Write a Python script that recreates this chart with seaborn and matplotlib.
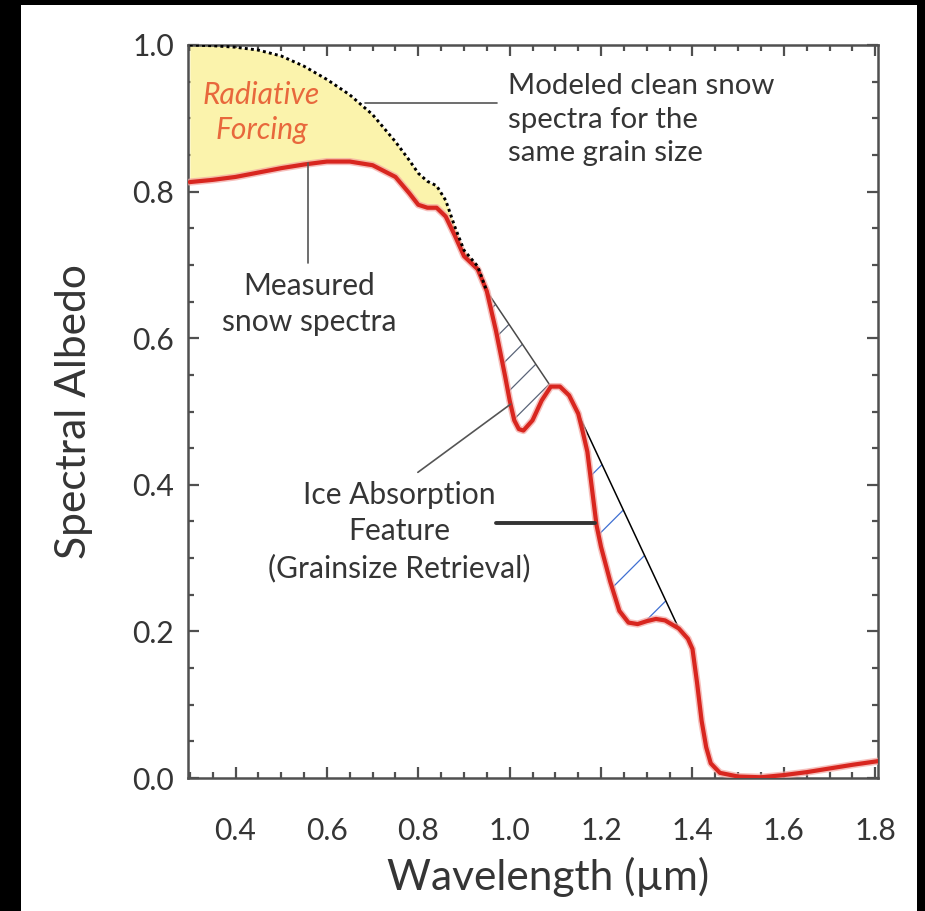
import numpy as np
import matplotlib
matplotlib.use("Agg")
import matplotlib.pyplot as plt
from matplotlib.patches import Rectangle
from matplotlib.ticker import MultipleLocator, FormatStrFormatter
import seaborn as sns

# ---------------- data ----------------
wavelength = [0.30, 0.35, 0.40, 0.45, 0.50, 0.55, 0.60, 0.65, 0.70, 0.75, 0.78,
              0.80, 0.82, 0.84, 0.86, 0.88, 0.90, 0.93, 0.95,
              0.97, 0.99, 1.00, 1.01, 1.02, 1.03, 1.05, 1.07, 1.09, 1.11, 1.13,
              1.15, 1.16, 1.17, 1.18, 1.19, 1.20, 1.22, 1.24, 1.26, 1.28, 1.30,
              1.32, 1.34, 1.37, 1.39, 1.40, 1.41, 1.42, 1.43, 1.44, 1.46, 1.50,
              1.55, 1.60, 1.65, 1.70, 1.75, 1.806]
measured_albedo = [0.813, 0.816, 0.820, 0.826, 0.832, 0.837, 0.841, 0.841, 0.836, 0.820, 0.798,
                   0.782, 0.778, 0.778, 0.766, 0.740, 0.712, 0.694, 0.664,
                   0.610, 0.548, 0.515, 0.488, 0.476, 0.474, 0.488, 0.515, 0.534, 0.534, 0.522,
                   0.497, 0.472, 0.445, 0.395, 0.345, 0.315, 0.268, 0.228, 0.212, 0.210, 0.214,
                   0.217, 0.215, 0.204, 0.190, 0.176, 0.130, 0.078, 0.042, 0.020, 0.007, 0.002,
                   0.001, 0.004, 0.008, 0.013, 0.018, 0.023]
modeled_albedo = [1.000, 0.999, 0.997, 0.993, 0.985, 0.971, 0.953, 0.932, 0.905, 0.868, 0.843,
                  0.825, 0.814, 0.808, 0.788, 0.752, 0.720, 0.698, 0.664]
# continuum endpoints of the two ice absorption features (wavelengths)
feature1_range = [0.95, 1.09]
feature2_range = [1.15, 1.37]

x_ticks = [0.4, 0.6, 0.8, 1.0, 1.2, 1.4, 1.6, 1.8]
y_ticks = [0.0, 0.2, 0.4, 0.6, 0.8, 1.0]

# ---------------- style ----------------
DPI = 200
sns.set_theme(style="ticks")
plt.rcParams["font.family"] = ["Lato", "DejaVu Sans"]
plt.rcParams["hatch.linewidth"] = 0.45
TXT = "#353535"
SPINE = "#505050"

fig = plt.figure(figsize=(925 / DPI, 911 / DPI), dpi=DPI, facecolor="black")
fig.add_artist(Rectangle((21 / 925, 0), (917 - 21) / 925, (911 - 5) / 911,
                         transform=fig.transFigure, facecolor="white",
                         edgecolor="none", zorder=-5))
ax = fig.add_axes([188 / 925, 1 - 778 / 911, (878 - 188) / 925, (778 - 45) / 911])
ax.set_facecolor("white")

x = np.array(wavelength)
ym = np.array(measured_albedo)
n_mod = len(modeled_albedo)

# radiative forcing fill
ax.fill_between(x[:n_mod], modeled_albedo, ym[:n_mod], color="#fbf3ac", lw=0, zorder=1)

# absorption features (polygon between continuum and measured curve)
for (a, b), hcol, lc, hatch in [(feature1_range, "#5a6478", "#4a4a4a", "//"),
                                (feature2_range, "#3f6fd2", "black", "/")]:
    i0 = int(np.argmin(np.abs(x - a)))
    i1 = int(np.argmin(np.abs(x - b)))
    ax.fill(x[i0:i1 + 1], ym[i0:i1 + 1], facecolor="none", edgecolor=hcol,
            hatch=hatch, lw=0, zorder=1.5)
    ax.plot([x[i0], x[i1]], [ym[i0], ym[i1]], color=lc, lw=0.55, zorder=2)

# curves
sns.lineplot(x=x, y=ym, ax=ax, color="#f3a5a0", lw=2.6, zorder=3, alpha=0.7)
sns.lineplot(x=x, y=ym, ax=ax, color="#d8261f", lw=1.5, zorder=4)
sns.lineplot(x=x[:n_mod], y=modeled_albedo, ax=ax, color="black", lw=1.05,
             linestyle=(0, (1, 1.1)), zorder=5)

# annotations
ax.text(0.457, 0.908, "Radiative\nForcing", color="#e8683c", style="italic",
        fontsize=10.8, ha="center", va="center", linespacing=1.3, zorder=6)
ax.text(0.996, 0.898, "Modeled clean snow\nspectra for the\nsame grain size", color=TXT,
        fontsize=10.6, ha="left", va="center", linespacing=1.36, zorder=6)
ax.plot([0.683, 0.972], [0.921, 0.921], color="#555555", lw=0.6, zorder=6)
ax.text(0.562, 0.647, "Measured\nsnow spectra", color=TXT,
        fontsize=10.8, ha="center", va="center", linespacing=1.36, zorder=6)
ax.plot([0.558, 0.558], [0.839, 0.703], color="#555555", lw=0.6, zorder=6)
ax.text(0.759, 0.336, "Ice Absorption\nFeature\n(Grainsize Retrieval)", color=TXT,
        fontsize=10.8, ha="center", va="center", linespacing=1.36, zorder=6)
ax.plot([0.799, 1.002], [0.417, 0.510], color="#555555", lw=0.6, zorder=6)
ax.plot([0.971, 1.186], [0.348, 0.348], color="#333333", lw=1.4, zorder=6)

# axes
ax.set_xlim(0.296, 1.806)
ax.set_ylim(0, 1.0)
ax.set_xticks(x_ticks)
ax.set_yticks(y_ticks)
ax.xaxis.set_minor_locator(MultipleLocator(0.05))
ax.yaxis.set_minor_locator(MultipleLocator(0.05))
ax.xaxis.set_major_formatter(FormatStrFormatter("%.1f"))
ax.yaxis.set_major_formatter(FormatStrFormatter("%.1f"))
ax.tick_params(which="both", direction="in", top=True, right=True, color=SPINE,
               labelcolor=TXT, labelsize=10.8)
ax.tick_params(which="major", length=3.8, width=0.8)
ax.tick_params(which="minor", length=2.3, width=0.8)
ax.tick_params(axis="x", which="major", pad=14)
ax.tick_params(axis="y", which="major", pad=5)
for s in ax.spines.values():
    s.set_color(SPINE)
    s.set_linewidth(0.9)
    s.set_visible(True)
ax.set_xlabel("Wavelength (\u00b5m)", fontsize=15.3, color=TXT)
ax.xaxis.set_label_coords(0.522, -0.107)
ax.set_ylabel("Spectral Albedo", fontsize=15.3, color=TXT)
ax.yaxis.set_label_coords(-0.138, 0.5)

fig.savefig("out.png", dpi=DPI, facecolor=fig.get_facecolor())
